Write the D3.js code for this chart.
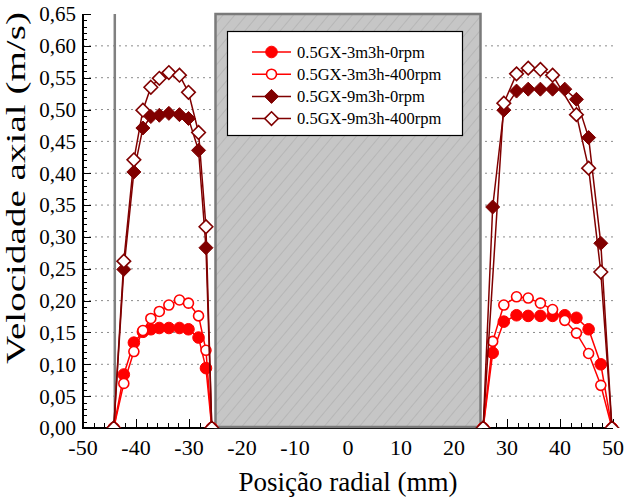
<!DOCTYPE html>
<html><head><meta charset="utf-8">
<script src="https://cdn.jsdelivr.net/npm/d3@7"></script>
<style>body{margin:0;background:#fff}svg{display:block}
text{font-family:"Liberation Serif","Times New Roman",Tinos,"Nimbus Roman","DejaVu Serif",serif}</style>
</head><body>
<script>
// ---- data ----
const xLeft  = [-44.2, -42.3, -40.4, -38.7, -37.2, -35.6, -33.8, -31.8, -30.1, -28.2, -26.8, -25.7];
const xRight = [25.5, 27.3, 29.4, 31.8, 34.0, 36.3, 38.6, 40.9, 43.1, 45.4, 47.7, 49.8];

const s3_0_left    = [0, 0.084, 0.134, 0.151, 0.155, 0.157, 0.157, 0.157, 0.155, 0.142, 0.094, 0];
const s3_0_right   = [0, 0.118, 0.167, 0.177, 0.176, 0.176, 0.176, 0.177, 0.173, 0.155, 0.100, 0];
const s3_400_left  = [0, 0.070, 0.120, 0.153, 0.172, 0.183, 0.193, 0.201, 0.196, 0.176, 0.122, 0];
const s3_400_right = [0, 0.136, 0.193, 0.206, 0.204, 0.196, 0.186, 0.169, 0.149, 0.117, 0.067, 0];
const s9_0_left    = [0, 0.249, 0.402, 0.471, 0.489, 0.491, 0.494, 0.492, 0.486, 0.436, 0.283, 0];
const s9_0_right   = [0, 0.347, 0.499, 0.529, 0.532, 0.532, 0.532, 0.532, 0.516, 0.456, 0.290, 0];
const s9_400_left  = [0, 0.262, 0.421, 0.499, 0.535, 0.549, 0.558, 0.554, 0.527, 0.464, 0.316, 0];
const s9_400_right = [0, null, 0.510, 0.556, 0.565, 0.563, 0.554, null, 0.492, 0.408, 0.245, 0];

const seriesNames = ["0.5GX-3m3h-0rpm", "0.5GX-3m3h-400rpm", "0.5GX-9m3h-0rpm", "0.5GX-9m3h-400rpm"];
const yTicks = [0,0.05,0.10,0.15,0.20,0.25,0.30,0.35,0.40,0.45,0.50,0.55,0.60,0.65];
const xTicks = [-50,-40,-30,-20,-10,0,10,20,30,40,50];
const wallX = -44;
const coreRange = [-25, 25];
const xTitle = "Posição radial (mm)";
const yTitle = "Velocidade axial (m/s)";

// ---- layout ----
const W = 627, H = 501;
const L = 83, R = 613, T = 14, B = 428;
const red = "#ff0000", dark = "#800000";

const x = d3.scaleLinear().domain([-50, 50]).range([L, R]);
const y = d3.scaleLinear().domain([0, 0.65]).range([B, T]);

const svg = d3.select("body").append("svg").attr("width", W).attr("height", H);
const defs = svg.append("defs");
const pat = defs.append("pattern").attr("id","hatch").attr("patternUnits","userSpaceOnUse")
  .attr("width", 9).attr("height", 9).attr("patternTransform","rotate(40)");
pat.append("rect").attr("width",9).attr("height",9).attr("fill","#c6c6c6");
pat.append("line").attr("x1",0).attr("y1",0).attr("x2",0).attr("y2",9).attr("stroke","#acacac").attr("stroke-width",1.2);

const clip = defs.append("clipPath").attr("id","plotclip");
clip.append("rect").attr("x", L).attr("y", T - 10).attr("width", R - L + 10).attr("height", B - T + 10);

// gridlines
svg.append("g").selectAll("line").data(yTicks.filter(v => v > 0 && v < 0.65)).join("line")
  .attr("x1", L).attr("x2", R).attr("y1", d => y(d)).attr("y2", d => y(d))
  .attr("stroke", "#8c8c8c").attr("stroke-width", 1).attr("stroke-dasharray", "2,4");

// axes
const yMinor = d3.range(0, 0.6501, 0.01);
const xMinor = d3.range(-50, 50.01, 2);
const ax = svg.append("g");
ax.append("g").selectAll("line").data(yMinor).join("line")
  .attr("x1", L).attr("x2", (d,i) => L + (i % 5 === 0 ? 8 : 4))
  .attr("y1", d => Math.round(y(d)) + 0.5).attr("y2", d => Math.round(y(d)) + 0.5)
  .attr("stroke", "#000").attr("stroke-width", 1);
ax.append("g").selectAll("line").data(xMinor).join("line")
  .attr("y1", B).attr("y2", (d,i) => B - (i % 5 === 0 ? 9 : 5))
  .attr("x1", d => Math.round(x(d)) + 0.5).attr("x2", d => Math.round(x(d)) + 0.5)
  .attr("stroke", "#000").attr("stroke-width", 1);
ax.append("line").attr("x1", L).attr("x2", L).attr("y1", T).attr("y2", B + 1).attr("stroke", "#000").attr("stroke-width", 2);
ax.append("line").attr("x1", L - 1).attr("x2", R).attr("y1", B).attr("y2", B).attr("stroke", "#000").attr("stroke-width", 2);

// tick labels
svg.append("g").selectAll("text").data(yTicks).join("text")
  .attr("x", L - 7).attr("y", d => y(d)).attr("dy", "0.35em")
  .attr("text-anchor", "end").attr("font-size", 21)
  .text(d => d3.format(".2f")(d).replace(".", ","));
svg.append("g").selectAll("text").data(xTicks).join("text")
  .attr("x", d => x(d)).attr("y", B + 27)
  .attr("text-anchor", "middle").attr("font-size", 22)
  .text(d => d);

// axis titles
svg.append("text").attr("x", x(0)).attr("y", 491).attr("text-anchor", "middle")
  .attr("font-size", 27).text(xTitle);
svg.append("text").attr("transform", `translate(25,188) rotate(-90)`)
  .attr("text-anchor", "middle").attr("font-size", 27)
  .attr("textLength", 352).attr("lengthAdjust", "spacingAndGlyphs").text(yTitle);

// wall line and core rectangle
svg.append("line").attr("x1", x(wallX)).attr("x2", x(wallX)).attr("y1", T).attr("y2", B)
  .attr("stroke", "#808080").attr("stroke-width", 2.5);
svg.append("rect").attr("x", x(coreRange[0])).attr("y", T).attr("width", x(coreRange[1]) - x(coreRange[0]))
  .attr("height", B - T - 1).attr("fill", "url(#hatch)").attr("stroke", "#7a7a7a").attr("stroke-width", 2.5);

// series
function pts(xs, vs) { return xs.map((v, i) => [v, vs[i]]).filter(d => d[1] !== null); }
const series = [
  {name: seriesNames[0], color: red,  fill: red,    shape: "circle",  parts: [pts(xLeft, s3_0_left),   pts(xRight, s3_0_right)]},
  {name: seriesNames[1], color: red,  fill: "#fff", shape: "circle",  parts: [pts(xLeft, s3_400_left), pts(xRight, s3_400_right)]},
  {name: seriesNames[2], color: dark, fill: dark,   shape: "diamond", parts: [pts(xLeft, s9_0_left),   pts(xRight, s9_0_right)]},
  {name: seriesNames[3], color: dark, fill: "#fff", shape: "diamond", parts: [pts(xLeft, s9_400_left), pts(xRight, s9_400_right)]}
];
const line = d3.line().x(d => x(d[0])).y(d => y(d[1]));
const gData = svg.append("g").attr("clip-path", "url(#plotclip)");

function drawMarker(g, cx, cy, s) {
  if (s.shape === "circle") {
    g.append("circle").attr("cx", cx).attr("cy", cy).attr("r", s.fill === "#fff" ? 5 : 5.8)
      .attr("fill", s.fill).attr("stroke", s.color).attr("stroke-width", s.fill === "#fff" ? 1.6 : 1);
  } else {
    const r = s.fill === "#fff" ? 6.8 : 7;
    g.append("path").attr("d", `M${cx},${cy - r}L${cx + r},${cy}L${cx},${cy + r}L${cx - r},${cy}Z`)
      .attr("fill", s.fill).attr("stroke", s.color).attr("stroke-width", s.fill === "#fff" ? 1.6 : 1);
  }
}

series.forEach(s => {
  const g = gData.append("g");
  s.parts.forEach(p => {
    g.append("path").datum(p).attr("d", line).attr("fill", "none").attr("stroke", s.color).attr("stroke-width", 1.5);
  });
  s.parts.forEach(p => p.forEach(d => drawMarker(g, x(d[0]), y(d[1]), s)));
});

// legend
const lg = svg.append("g");
lg.append("rect").attr("x", 227.5).attr("y", 31.5).attr("width", 235).attr("height", 104)
  .attr("fill", "#fff").attr("stroke", "#000").attr("stroke-width", 1.2);
series.forEach((s, i) => {
  const cy = 52 + i * 22.2;
  lg.append("line").attr("x1", 252).attr("x2", 291).attr("y1", cy).attr("y2", cy).attr("stroke", s.color).attr("stroke-width", 1.5);
  drawMarker(lg, 271.5, cy, s);
  lg.append("text").attr("x", 297).attr("y", cy).attr("dy", "0.35em")
    .attr("font-size", 16.5).text(s.name);
});
</script>
</body></html>
